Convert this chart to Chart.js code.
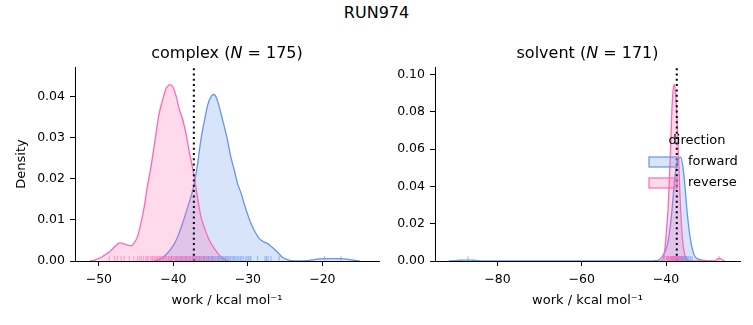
<!DOCTYPE html>
<html>
<head>
<meta charset="utf-8">
<script src="https://cdn.jsdelivr.net/npm/chart.js@4.4.1/dist/chart.umd.min.js"></script>
<style>
  body { margin: 0; background: #fff; }
  #wrap { position: relative; width: 753px; height: 325px; }
  #suptitle { position: absolute; left: 0; top: 5px; width: 753px; text-align: center;
    font: 16px 'DejaVu Sans', sans-serif; line-height: 16px; color: #000; }
  canvas { position: absolute; top: 0; }
</style>
</head>
<body>
<div id="wrap">
  <div id="suptitle">RUN974</div>
  <canvas id="complex" width="385" height="325" style="left:0"></canvas>
  <canvas id="solvent" width="368" height="325" style="left:385px"></canvas>
</div>
<script>
// Panels
const panelNames = ['complex', 'solvent'];
const panelCounts = [175, 171];
const directions = ['forward', 'reverse'];
const dirColors = ['#6495ED', '#FF69B4'];
const dirFills = ['rgba(100,149,237,0.25)', 'rgba(255,105,180,0.25)'];

// Complex KDE
const complexFwdX = [-42.5, -41.5, -40.8, -40.0, -39.4, -38.7, -38.1, -37.3, -36.8, -36.3, -35.8, -35.4, -34.9, -34.6, -34.3, -33.9, -33.4, -32.8, -32.3, -31.8, -31.4, -30.9, -30.5, -30.0, -29.6, -29.0, -28.5, -27.9, -27.4, -26.9, -26.5, -25.9, -25.4, -24.8, -24.2, -23.0, -22.0, -21.2, -20.5, -19.5, -18.5, -17.5, -16.5, -15.8, -15.0];
const complexFwdY = [0, 0.0008, 0.0019, 0.0038, 0.006, 0.0095, 0.013, 0.018, 0.023, 0.0296, 0.0345, 0.038, 0.0402, 0.0406, 0.0401, 0.038, 0.0345, 0.030, 0.0255, 0.022, 0.019, 0.0165, 0.014, 0.0112, 0.0092, 0.007, 0.0055, 0.0047, 0.0043, 0.0036, 0.003, 0.0019, 0.001, 0.0004, 0.0001, 0, 0.0001, 0.0003, 0.0005, 0.0006, 0.0006, 0.0006, 0.0004, 0.0002, 0];
const complexRevX = [-51.2, -50.5, -49.8, -49.0, -48.3, -47.7, -47.2, -46.6, -46.0, -45.7, -45.3, -44.8, -44.4, -43.9, -43.5, -43.0, -42.5, -41.9, -41.4, -41.0, -40.6, -40.4, -40.0, -39.6, -39.2, -38.75, -38.3, -37.9, -37.5, -37.2, -36.8, -36.3, -35.8, -35.4, -34.9, -34.5, -34.0, -33.6, -33.1, -32.7];
const complexRevY = [0, 0.0003, 0.0008, 0.0017, 0.0027, 0.0038, 0.0044, 0.0042, 0.0038, 0.0037, 0.0043, 0.006, 0.0088, 0.0133, 0.018, 0.023, 0.029, 0.036, 0.0395, 0.042, 0.0429, 0.043, 0.0422, 0.040, 0.037, 0.0345, 0.031, 0.027, 0.0235, 0.0206, 0.016, 0.0108, 0.008, 0.006, 0.0042, 0.003, 0.0018, 0.001, 0.0004, 0];
const complexFwdRug = [-40.3, -39.6, -39.1, -38.8, -38.4, -38.2, -37.9, -37.7, -37.4, -37.2, -37.0, -36.9, -36.7, -36.5, -36.4, -36.2, -36.0, -35.9, -35.8, -35.6, -35.5, -35.3, -35.2, -35.1, -34.9, -34.8, -34.7, -34.6, -34.4, -34.3, -34.1, -34.0, -33.9, -33.8, -33.6, -33.5, -33.3, -33.2, -33.0, -32.9, -32.7, -32.6, -32.4, -32.3, -32.1, -31.9, -31.8, -31.6, -31.4, -31.2, -31.0, -30.8, -30.6, -30.3, -30.1, -29.9, -29.7, -29.6, -28.7, -27.7, -27.5, -27.3, -26.9, -25.8, -19.7, -17.5];
const complexRevRug = [-48.6, -47.9, -47.5, -47.0, -46.6, -45.9, -45.3, -44.8, -44.5, -44.3, -44.0, -43.7, -43.5, -43.4, -43.1, -42.9, -42.8, -42.6, -42.5, -42.3, -42.2, -42.1, -41.9, -41.8, -41.7, -41.5, -41.4, -41.3, -41.1, -41.0, -40.9, -40.7, -40.6, -40.5, -40.3, -40.2, -40.1, -39.9, -39.8, -39.7, -39.5, -39.4, -39.3, -39.1, -39.0, -38.9, -38.7, -38.6, -38.5, -38.3, -38.2, -38.1, -37.9, -37.8, -37.6, -37.4, -37.3, -37.1, -37.0, -36.8, -36.6, -36.4, -36.2, -36.0, -35.8, -35.5, -35.3, -34.9, -34.7];

// Solvent KDE
const solventFwdX = [-91.5, -90, -88.5, -87.2, -86, -84.5, -83, -45, -42, -41.4, -40.6, -39.8, -39.2, -38.6, -37.9, -37.5, -37.1, -36.5, -35.9, -35.5, -35.1, -34.7, -34.3, -33.7, -33.1, -32.3, -31.5, -30, -29];
const solventFwdY = [0, 0.0002, 0.0004, 0.0005, 0.0004, 0.0002, 0, 0, 0.0003, 0.001, 0.0035, 0.0077, 0.015, 0.027, 0.045, 0.051, 0.0543, 0.0557, 0.049, 0.04, 0.029, 0.02, 0.013, 0.006, 0.0023, 0.001, 0.0005, 0.0001, 0];
const solventRevX = [-41.2, -40.6, -40.2, -39.8, -39.5, -39.0, -38.6, -38.3, -38.0, -37.7, -37.3, -37.0, -36.7, -36.3, -35.9, -35.5, -35.1, -34.5, -33, -29, -28.2, -27.7, -27.4, -27.0, -26.5, -26.0];
const solventRevY = [0, 0.0015, 0.008, 0.019, 0.028, 0.055, 0.081, 0.092, 0.0946, 0.089, 0.072, 0.054, 0.0365, 0.018, 0.0077, 0.003, 0.001, 0.0001, 0, 0, 0.0004, 0.0012, 0.0015, 0.0012, 0.0004, 0];
const solventFwdRug = [-87.0, -39.5, -38.6, -38.3, -38.0, -37.8, -37.6, -37.4, -37.2, -37.0, -36.9, -36.7, -36.6, -36.4, -36.3, -36.1, -36.0, -35.8, -35.7, -35.5, -35.4, -35.2, -35.0, -34.8, -34.6, -34.2, -33.8];
const solventRevRug = [-40.3, -40.0, -39.8, -39.6, -39.5, -39.3, -39.2, -39.0, -38.9, -38.8, -38.7, -38.6, -38.5, -38.4, -38.3, -38.2, -38.1, -38.0, -37.9, -37.8, -37.7, -37.6, -37.5, -37.4, -37.3, -37.1, -37.0, -36.8, -36.7, -36.5, -36.3, -36.0, -27.4];

// Dotted reference lines
const refWork = [-37.25, -37.45];

// Axes
const xRanges = [[-53.2, -12.4], [-94.8, -22.45]];
const yMax = [0.0473, 0.1041];
const xTicks = [[-50, -40, -30, -20], [-80, -60, -40]];
const yTicks = [[0, 0.01, 0.02, 0.03, 0.04], [0, 0.02, 0.04, 0.06, 0.08, 0.10]];

const FONT = "'DejaVu Sans', sans-serif";
Chart.defaults.font.family = FONT;
Chart.defaults.color = '#000';

const pts = (xs, ys) => xs.map((x, i) => ({ x, y: ys[i] }));

// Rug ticks along the bottom of the axes
const rugPlugin = {
  id: 'rug',
  afterDatasetsDraw(chart, args, opts) {
    const { ctx, chartArea, scales } = chart;
    ctx.save();
    ctx.lineWidth = 1.2;
    opts.sets.forEach(set => {
      ctx.strokeStyle = set.color;
      set.values.forEach(v => {
        const px = scales.x.getPixelForValue(v);
        ctx.beginPath();
        ctx.moveTo(px, chartArea.bottom);
        ctx.lineTo(px, chartArea.bottom - 5);
        ctx.stroke();
      });
    });
    ctx.restore();
  }
};

// Panel title with italic N
const panelTitlePlugin = {
  id: 'panelTitle',
  afterDraw(chart, args, opts) {
    const { ctx, chartArea } = chart;
    const parts = [
      { t: opts.name + ' (', f: '16px ' + FONT },
      { t: 'N', f: 'italic 16px ' + FONT },
      { t: ' = ' + opts.count + ')', f: '16px ' + FONT }
    ];
    ctx.save();
    let total = 0;
    parts.forEach(p => { ctx.font = p.f; p.w = ctx.measureText(p.t).width; total += p.w; });
    let x = (chartArea.left + chartArea.right) / 2 - total / 2;
    ctx.fillStyle = '#000';
    ctx.textBaseline = 'middle';
    parts.forEach(p => { ctx.font = p.f; ctx.fillText(p.t, x, chartArea.top - 13); x += p.w; });
    ctx.restore();
  }
};

// Legend drawn inside the solvent panel
const legendPlugin = {
  id: 'dirLegend',
  afterDraw(chart, args, opts) {
    if (!opts.show) return;
    const { ctx, chartArea } = chart;
    const r = chartArea.right;
    ctx.save();
    ctx.fillStyle = '#000';
    ctx.font = '13px ' + FONT;
    ctx.textAlign = 'center';
    ctx.textBaseline = 'middle';
    ctx.fillText('direction', r - 43, 141);
    ctx.textAlign = 'left';
    directions.forEach((d, i) => {
      const y = 157 + i * 21;
      ctx.fillStyle = dirFills[i];
      ctx.fillRect(r - 91, y, 28, 10);
      ctx.strokeStyle = dirColors[i];
      ctx.lineWidth = 1.2;
      ctx.strokeRect(r - 91, y, 28, 10);
      ctx.fillStyle = '#000';
      ctx.fillText(d, r - 52, y + 5);
    });
    ctx.restore();
  }
};

function makePanel(id, p, fwd, rev, fwdRug, revRug, yAxisWidth, padRight, showYTitle, showLegend) {
  const kde = (i, data) => ({
    label: directions[i],
    data,
    borderColor: dirColors[i],
    backgroundColor: dirFills[i],
    borderWidth: 1.3,
    fill: 'origin',
    pointRadius: 0,
    cubicInterpolationMode: 'monotone',
    order: i === 0 ? 2 : 1
  });
  return new Chart(document.getElementById(id), {
    type: 'line',
    data: {
      datasets: [
        kde(0, fwd),
        kde(1, rev),
        {
          label: 'ref',
          data: [{ x: refWork[p], y: 0 }, { x: refWork[p], y: yMax[p] }],
          borderColor: '#000',
          borderWidth: 2,
          borderDash: [2, 3.3],
          pointRadius: 0,
          fill: false,
          order: 0
        }
      ]
    },
    options: {
      responsive: false,
      animation: false,
      devicePixelRatio: 1,
      layout: { padding: { left: 0, right: padRight, top: 67, bottom: 0 } },
      plugins: {
        legend: { display: false },
        tooltip: { enabled: false },
        title: { display: false },
        rug: {
          sets: [
            { values: fwdRug, color: 'rgba(100,149,237,0.5)' },
            { values: revRug, color: 'rgba(255,105,180,0.5)' }
          ]
        },
        panelTitle: { name: panelNames[p], count: panelCounts[p] },
        dirLegend: { show: showLegend }
      },
      scales: {
        x: {
          type: 'linear',
          min: xRanges[p][0],
          max: xRanges[p][1],
          afterBuildTicks: s => { s.ticks = xTicks[p].map(v => ({ value: v })); },
          afterFit: s => { s.height = 64; },
          grid: { display: true, drawOnChartArea: false, drawTicks: true, tickLength: 5, color: '#000', lineWidth: 1 },
          border: { display: true, color: '#000', width: 1 },
          ticks: {
            padding: 6,
            maxRotation: 0,
            font: { size: 12.5 },
            color: '#000',
            callback: v => (v < 0 ? '\u2212' : '') + Math.abs(v)
          },
          title: {
            display: true,
            text: 'work / kcal mol\u207B\u00B9',
            font: { size: 13 },
            color: '#000',
            padding: { top: 0, bottom: 17 }
          }
        },
        y: {
          type: 'linear',
          min: 0,
          max: yMax[p],
          afterBuildTicks: s => { s.ticks = yTicks[p].map(v => ({ value: v })); },
          afterFit: s => { s.width = yAxisWidth; },
          grid: { display: true, drawOnChartArea: false, drawTicks: true, tickLength: 5, color: '#000', lineWidth: 1 },
          border: { display: true, color: '#000', width: 1 },
          ticks: {
            padding: 5,
            font: { size: 12.5 },
            color: '#000',
            callback: v => v.toFixed(2)
          },
          title: {
            display: showYTitle,
            text: 'Density',
            font: { size: 13 },
            color: '#000',
            padding: { top: 14, bottom: 0 }
          }
        }
      }
    },
    plugins: [rugPlugin, panelTitlePlugin, legendPlugin]
  });
}

makePanel('complex', 0, pts(complexFwdX, complexFwdY), pts(complexRevX, complexRevY),
  complexFwdRug, complexRevRug, 75, 6, true, false);
makePanel('solvent', 1, pts(solventFwdX, solventFwdY), pts(solventRevX, solventRevY),
  solventFwdRug, solventRevRug, 50, 13, false, true);
</script>
</body>
</html>
